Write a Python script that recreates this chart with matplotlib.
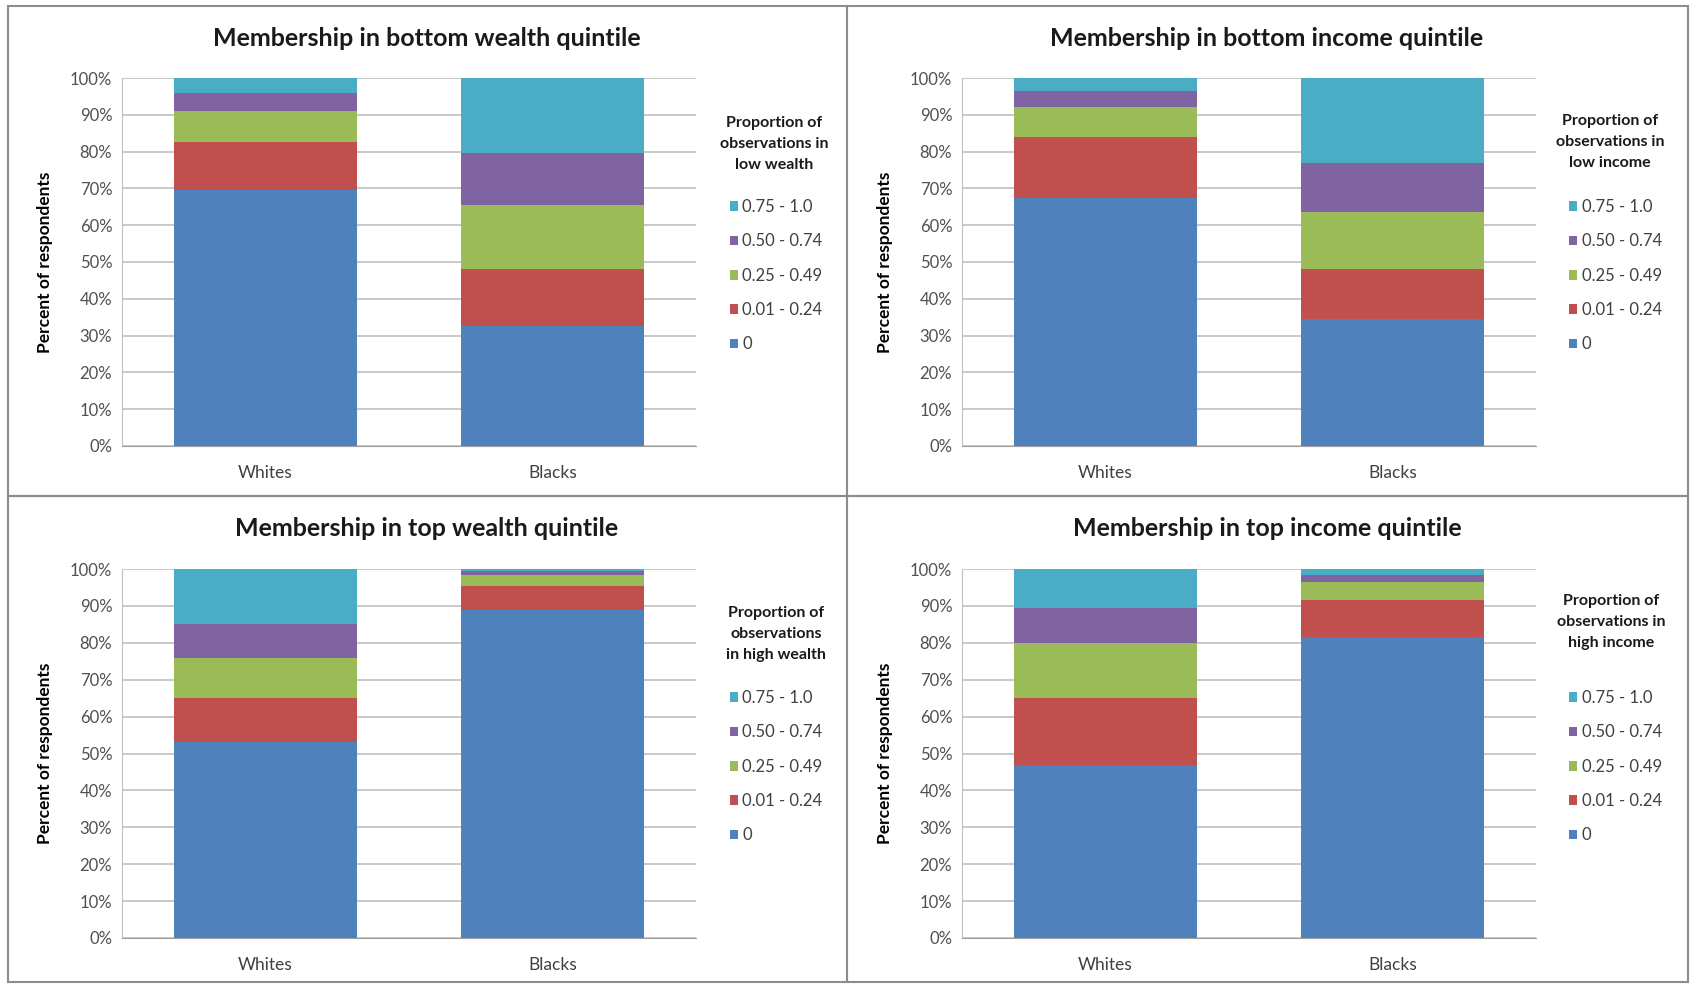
import matplotlib.pyplot as plt
from matplotlib.patches import Patch, Rectangle

plt.rcParams['font.family'] = ['Lato', 'DejaVu Sans']

groups = ["Whites", "Blacks"]
bins = ["0", "0.01 - 0.24", "0.25 - 0.49", "0.50 - 0.74", "0.75 - 1.0"]
colors = ["#4F81BD", "#C0504D", "#9BBB59", "#8064A2", "#4BACC6"]

# share of respondents (%) per bin, [Whites, Blacks]
bottom_wealth = [[69.5, 32.5], [13.0, 15.5], [8.5, 17.5], [5.0, 14.0], [4.0, 20.5]]
bottom_income = [[67.5, 34.5], [16.5, 13.5], [8.0, 15.5], [4.5, 13.5], [3.5, 23.0]]
top_wealth = [[53.0, 89.0], [12.0, 6.5], [11.0, 3.0], [9.0, 1.0], [15.0, 0.5]]
top_income = [[47.0, 81.5], [18.0, 10.0], [15.0, 5.0], [9.5, 2.0], [10.5, 1.5]]

titles = ["Membership in bottom wealth quintile", "Membership in bottom income quintile",
          "Membership in top wealth quintile", "Membership in top income quintile"]
legend_titles = ["Proportion of\nobservations in\nlow wealth",
                 "Proportion of\nobservations in\nlow income",
                 "Proportion of\nobservations\nin high wealth",
                 "Proportion of\nobservations in\nhigh income"]
panels = [bottom_wealth, bottom_income, top_wealth, top_income]

W, H = 1691, 984
fig = plt.figure(figsize=(W / 100, H / 100), dpi=100)

# panel borders
for (x0, y0, x1, y1) in [(8, 6, 847, 496), (847, 6, 1688, 496),
                         (8, 496, 847, 982), (847, 496, 1688, 982)]:
    fig.patches.append(Rectangle((x0 / W, 1 - y1 / H), (x1 - x0) / W, (y1 - y0) / H,
                                 transform=fig.transFigure, fill=False,
                                 edgecolor="#8c8c8c", linewidth=1.5))

# plot area boxes in pixels: left, top, right, bottom
boxes = [(122, 78, 696, 446), (962, 78, 1536, 446),
         (122, 569, 696, 938), (962, 569, 1536, 938)]
panel_centers = [427, 1267, 427, 1267]
title_y = [39, 39, 529, 529]
leg_x = [774, 1610, 776, 1611]
leg_title_y = [144, 142, 634, 622]
leg_top = [199, 199, 690, 690]
leg_left = [730, 1569, 730, 1569]

for k, data in enumerate(panels):
    l, t, r, b = boxes[k]
    ax = fig.add_axes([l / W, 1 - b / H, (r - l) / W, (b - t) / H])
    xs = [0.5, 1.5]
    base = [0, 0]
    for i, vals in enumerate(data):
        ax.bar(xs, vals, width=0.64, bottom=base, color=colors[i], zorder=2)
        base = [base[j] + vals[j] for j in range(2)]
    ax.set_xlim(0, 2)
    ax.set_ylim(0, 100)
    ax.set_yticks(range(0, 101, 10))
    ax.set_yticklabels([f"{v}%" for v in range(0, 101, 10)], fontsize=12, color="#505050")
    ax.set_xticks(xs)
    ax.set_xticklabels(groups, fontsize=12.5, color="#404040")
    ax.tick_params(axis="y", length=0, pad=7)
    ax.tick_params(axis="x", length=0, pad=14)
    ax.grid(axis="y", color="#c0c0c0", linewidth=1.2, zorder=0)
    for s in ["top", "right"]:
        ax.spines[s].set_visible(False)
    ax.spines["left"].set_color("#c0c0c0")
    ax.spines["bottom"].set_color("#a0a0a0")
    ax.set_ylabel("Percent of respondents", fontsize=12.5, fontweight="bold", labelpad=12)

    fig.text(panel_centers[k] / W, 1 - title_y[k] / H, titles[k], ha="center", va="center",
             fontsize=18, fontweight="bold", color="#1a1a1a")
    fig.text(leg_x[k] / W, 1 - leg_title_y[k] / H, legend_titles[k], ha="center", va="center",
             fontsize=11.5, fontweight="bold", color="#1a1a1a", linespacing=1.6)
    handles = [Patch(facecolor=colors[i], label=bins[i]) for i in range(4, -1, -1)]
    lg = fig.legend(handles=handles, loc="upper left",
                    bbox_to_anchor=(leg_left[k] / W, 1 - leg_top[k] / H),
                    frameon=False, fontsize=12, handlelength=0.5, handleheight=0.5,
                    handletextpad=0.25, labelspacing=1.1, borderpad=0, borderaxespad=0)
    for txt in lg.get_texts():
        txt.set_color("#404040")

fig.savefig("out.png", dpi=100)
